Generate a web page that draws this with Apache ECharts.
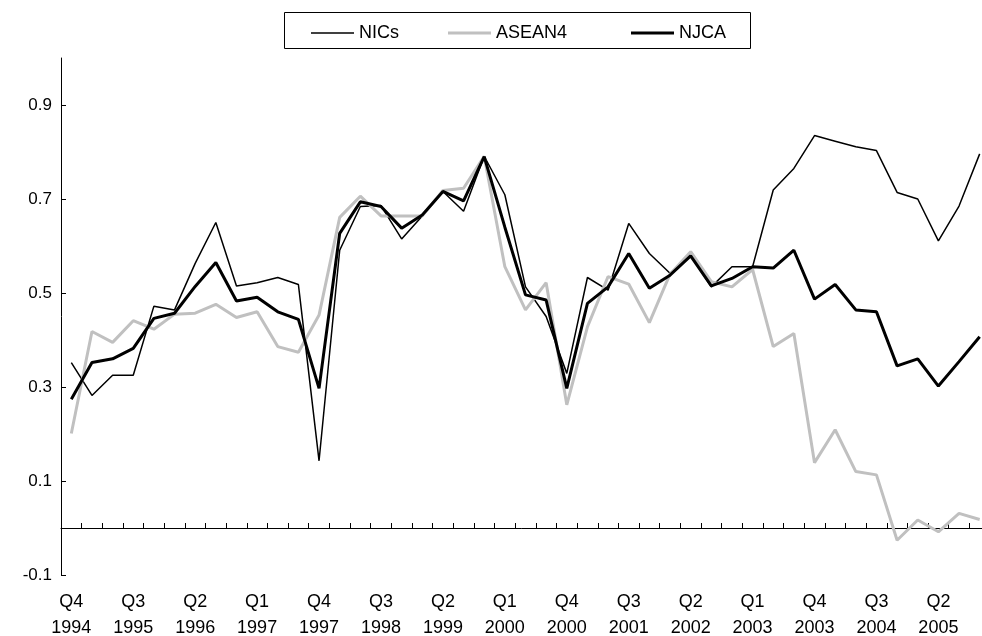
<!DOCTYPE html>
<html>
<head>
<meta charset="utf-8">
<script src="https://cdn.jsdelivr.net/npm/echarts@6/dist/echarts.min.js"></script>
<style>
  html, body { margin: 0; padding: 0; background: #fff; }
  #chart { width: 982px; height: 636px; }
</style>
</head>
<body>
<div id="chart"></div>
<script>
// quarters, Q4 1994 .. Q4 2005
const quarters = [
  'Q4 1994', 'Q1 1995', 'Q2 1995', 'Q3 1995', 'Q4 1995', 'Q1 1996', 'Q2 1996', 'Q3 1996', 'Q4 1996',
  'Q1 1997', 'Q2 1997', 'Q3 1997', 'Q4 1997', 'Q1 1998', 'Q2 1998', 'Q3 1998', 'Q4 1998',
  'Q1 1999', 'Q2 1999', 'Q3 1999', 'Q4 1999', 'Q1 2000', 'Q2 2000', 'Q3 2000', 'Q4 2000',
  'Q1 2001', 'Q2 2001', 'Q3 2001', 'Q4 2001', 'Q1 2002', 'Q2 2002', 'Q3 2002', 'Q4 2002',
  'Q1 2003', 'Q2 2003', 'Q3 2003', 'Q4 2003', 'Q1 2004', 'Q2 2004', 'Q3 2004', 'Q4 2004',
  'Q1 2005', 'Q2 2005', 'Q3 2005', 'Q4 2005'
];

const nics = [
  0.352, 0.282, 0.325, 0.325, 0.472, 0.464, 0.563, 0.650, 0.515, 0.522, 0.533, 0.518, 0.143,
  0.591, 0.684, 0.686, 0.615, 0.664, 0.716, 0.674, 0.791, 0.709, 0.513, 0.450, 0.329,
  0.533, 0.506, 0.648, 0.584, 0.542, 0.580, 0.513, 0.556, 0.556, 0.719, 0.765, 0.835,
  0.823, 0.811, 0.803, 0.714, 0.700, 0.611, 0.685, 0.796
];

const asean4 = [
  0.201, 0.418, 0.395, 0.441, 0.423, 0.455, 0.457, 0.476, 0.448, 0.460, 0.386, 0.374, 0.453,
  0.661, 0.706, 0.664, 0.664, 0.664, 0.718, 0.723, 0.791, 0.556, 0.464, 0.522, 0.262,
  0.428, 0.535, 0.519, 0.437, 0.540, 0.588, 0.524, 0.513, 0.550, 0.386, 0.414, 0.139,
  0.209, 0.120, 0.113, -0.026, 0.017, -0.008, 0.031, 0.018
];

const njca = [
  0.274, 0.352, 0.360, 0.382, 0.446, 0.457, 0.514, 0.565, 0.483, 0.491, 0.460, 0.444, 0.297,
  0.627, 0.694, 0.684, 0.638, 0.666, 0.716, 0.696, 0.790, 0.640, 0.496, 0.485, 0.297,
  0.478, 0.513, 0.584, 0.510, 0.538, 0.579, 0.515, 0.531, 0.556, 0.553, 0.591, 0.487,
  0.518, 0.464, 0.460, 0.345, 0.360, 0.302, 0.354, 0.407
];

const yTicks = [-0.1, 0.1, 0.3, 0.5, 0.7, 0.9];

const font = 'Liberation Sans, Arial, sans-serif';

function lineSeries(name, data, color, width) {
  return {
    name: name,
    type: 'line',
    data: data,
    symbol: 'none',
    showSymbol: false,
    smooth: false,
    animation: false,
    lineStyle: { color: color, width: width },
    itemStyle: { color: color }
  };
}

// one legend per entry so the spacing follows the original box
function legendAt(name, left, thick) {
  return {
    data: [{ name: name, icon: 'rect' }],
    left: left,
    top: 19,
    itemWidth: 43,
    itemHeight: thick,
    itemGap: 6,
    textStyle: { fontFamily: font, fontSize: 18, color: '#000' },
    selectedMode: false
  };
}

const chart = echarts.init(document.getElementById('chart'));
chart.setOption({
  backgroundColor: '#fff',
  animation: false,
  // plot area runs a little past the right edge, as in the original crop
  grid: { left: 61, width: 929, top: 58, bottom: 61, containLabel: false, outerBoundsMode: 'none' },
  graphic: [{
    type: 'rect',
    shape: { x: 284.5, y: 12.5, width: 466, height: 36 },
    style: { fill: 'none', stroke: '#000', lineWidth: 1 }
  }],
  legend: [
    legendAt('NICs', 306, 1.5),
    legendAt('ASEAN4', 443, 3),
    legendAt('NJCA', 626, 3)
  ],
  xAxis: [{
    type: 'category',
    data: quarters,
    boundaryGap: true,
    axisLine: { onZero: true, lineStyle: { color: '#000', width: 1 } },
    axisTick: { show: true, inside: true, length: 5, interval: 0, lineStyle: { color: '#000' } },
    axisLabel: { show: false },
    splitLine: { show: false }
  }, {
    type: 'category',
    data: quarters,
    position: 'bottom',
    boundaryGap: true,
    axisLine: { show: false, onZero: false },
    axisTick: { show: false },
    axisLabel: {
      interval: 2,
      margin: 14,
      lineHeight: 26,
      fontFamily: font,
      fontSize: 18,
      color: '#000',
      formatter: v => v.replace(' ', '\n')
    },
    splitLine: { show: false }
  }],
  yAxis: {
    type: 'value',
    min: -0.1,
    max: 1.0,
    interval: 0.2,
    axisLine: { show: true, lineStyle: { color: '#000', width: 1 } },
    axisTick: { show: true, inside: true, length: 5, customValues: yTicks, lineStyle: { color: '#000' } },
    axisLabel: {
      customValues: yTicks,
      margin: 9,
      fontFamily: font,
      fontSize: 17,
      color: '#000',
      formatter: v => v.toFixed(1)
    },
    splitLine: { show: false }
  },
  series: [
    lineSeries('NICs', nics, '#000000', 1.5),
    lineSeries('ASEAN4', asean4, '#c0c0c0', 3),
    lineSeries('NJCA', njca, '#000000', 3)
  ]
});
</script>
</body>
</html>
